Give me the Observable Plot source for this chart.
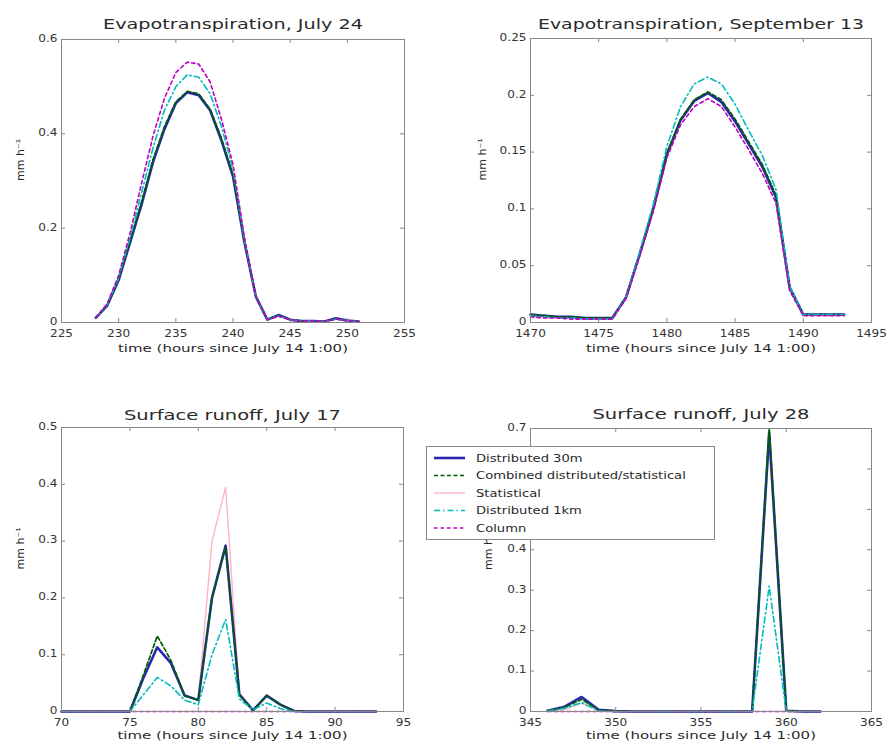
<!DOCTYPE html>
<html><head><meta charset="utf-8">
<script src="https://cdn.jsdelivr.net/npm/d3@7"></script>
<script src="https://cdn.jsdelivr.net/npm/@observablehq/plot@0.6"></script>
<style>
body{margin:0;background:#fff;}
#wrap{position:relative;width:890px;height:753px;background:#fff;font-family:"DejaVu Sans",sans-serif;overflow:hidden;}
.panel{position:absolute;}
</style></head><body><div id="wrap"></div>
<script>
// ---------- Data ----------
const seriesNames = ["Distributed 30m","Combined distributed/statistical","Statistical","Distributed 1km","Column"];

// Panel 1: Evapotranspiration, July 24
const et1Hours = [228,229,230,231,232,233,234,235,236,237,238,239,240,241,242,243,244,245,246,247,248,249,250,251];
const et1Dist30 = [0.01,0.036,0.09,0.17,0.25,0.34,0.41,0.465,0.488,0.482,0.45,0.385,0.31,0.17,0.055,0.006,0.016,0.006,0.003,0.003,0.002,0.009,0.004,0.002];
const et1Combined = [0.01,0.037,0.092,0.172,0.255,0.345,0.415,0.468,0.49,0.485,0.452,0.39,0.312,0.172,0.055,0.006,0.015,0.006,0.003,0.003,0.002,0.008,0.004,0.002];
const et1Statistical = [0.01,0.036,0.09,0.17,0.252,0.342,0.412,0.466,0.489,0.483,0.45,0.386,0.31,0.17,0.055,0.006,0.015,0.006,0.003,0.003,0.002,0.008,0.004,0.002];
const et1Dist1km = [0.01,0.038,0.095,0.18,0.275,0.37,0.45,0.5,0.525,0.52,0.485,0.415,0.325,0.175,0.055,0.006,0.014,0.006,0.003,0.003,0.002,0.007,0.004,0.002];
const et1Column = [0.01,0.04,0.1,0.19,0.295,0.395,0.475,0.53,0.552,0.548,0.51,0.43,0.335,0.18,0.055,0.006,0.013,0.006,0.003,0.003,0.002,0.007,0.004,0.002];
const et1XTicks = [225,230,235,240,245,250,255];
const et1YTicks = [0,0.2,0.4,0.6];
const et1YTickLabels = ["0","0.2","0.4","0.6"];

// Panel 2: Evapotranspiration, September 13
const et2Hours = [1470,1471,1472,1473,1474,1475,1476,1477,1478,1479,1480,1481,1482,1483,1484,1485,1486,1487,1488,1489,1490,1491,1492,1493];
const et2Dist30 = [0.007,0.006,0.005,0.005,0.004,0.004,0.004,0.022,0.06,0.10,0.148,0.178,0.195,0.202,0.194,0.177,0.157,0.137,0.11,0.031,0.007,0.007,0.007,0.007];
const et2Combined = [0.007,0.006,0.005,0.005,0.004,0.004,0.004,0.022,0.06,0.10,0.149,0.179,0.196,0.203,0.196,0.179,0.159,0.139,0.112,0.031,0.007,0.007,0.007,0.007];
const et2Statistical = [0.007,0.006,0.005,0.005,0.004,0.004,0.004,0.022,0.06,0.10,0.148,0.178,0.195,0.202,0.194,0.177,0.157,0.137,0.11,0.031,0.007,0.007,0.007,0.007];
const et2Dist1km = [0.006,0.005,0.004,0.004,0.003,0.003,0.003,0.022,0.062,0.104,0.155,0.19,0.21,0.216,0.21,0.192,0.169,0.147,0.117,0.032,0.007,0.007,0.007,0.007];
const et2Column = [0.005,0.004,0.004,0.003,0.003,0.003,0.003,0.021,0.058,0.098,0.145,0.174,0.19,0.197,0.19,0.172,0.152,0.131,0.105,0.028,0.006,0.006,0.006,0.006];
const et2XTicks = [1470,1475,1480,1485,1490,1495];
const et2YTicks = [0,0.05,0.1,0.15,0.2,0.25];
const et2YTickLabels = ["0","0.05","0.1","0.15","0.2","0.25"];

// Panel 3: Surface runoff, July 17
const ro1Hours = [70,71,72,73,74,75,76,77,78,79,80,81,82,83,84,85,86,87,88,89,90,91,92,93];
const ro1Dist30 = [0,0,0,0,0,0,0.06,0.113,0.085,0.028,0.02,0.2,0.292,0.03,0.002,0.028,0.012,0.001,0,0,0,0,0,0];
const ro1Combined = [0,0,0,0,0,0,0.065,0.133,0.09,0.028,0.02,0.2,0.29,0.03,0.002,0.028,0.012,0.001,0,0,0,0,0,0];
const ro1Statistical = [0,0,0,0,0,0,0.06,0.113,0.085,0.028,0.02,0.3,0.395,0.03,0.002,0.028,0.012,0.001,0,0,0,0,0,0];
const ro1Dist1km = [0,0,0,0,0,0,0.03,0.06,0.045,0.02,0.012,0.1,0.162,0.022,0.003,0.015,0.005,0,0,0,0,0,0,0];
const ro1Column = [0,0,0,0,0,0,0,0,0,0,0,0,0,0,0,0,0,0,0,0,0,0,0,0];
const ro1XTicks = [70,75,80,85,90,95];
const ro1YTicks = [0,0.1,0.2,0.3,0.4,0.5];
const ro1YTickLabels = ["0","0.1","0.2","0.3","0.4","0.5"];

// Panel 4: Surface runoff, July 28
const ro2Hours = [346,347,348,349,350,351,352,353,354,355,356,357,358,359,360,361,362];
const ro2Dist30 = [0.002,0.012,0.036,0.004,0.001,0,0,0,0,0,0,0,0,0.69,0.002,0,0];
const ro2Combined = [0.002,0.01,0.03,0.003,0.001,0,0,0,0,0,0,0,0,0.70,0.002,0,0];
const ro2Statistical = [0,0.005,0.02,0.002,0,0,0,0,0,0,0,0,0,0.66,0,0,0];
const ro2Dist1km = [0.001,0.008,0.022,0.002,0,0,0,0,0,0,0,0,0,0.31,0.001,0,0];
const ro2Column = [0,0,0,0,0,0,0,0,0,0,0,0,0,0,0,0,0];
const ro2XTicks = [345,350,355,360,365];
const ro2YTicks = [0,0.1,0.2,0.3,0.4,0.5,0.6,0.7];
const ro2YTickLabels = ["0","0.1","0.2","0.3","0.4","0.5","0.6","0.7"];
// labels 0.5 and 0.6 lie under the legend box in the reference
const ro2HiddenLabels = ["0.5","0.6"];

const xLabel = "time (hours since July 14 1:00)";
const yLabel = "mm h⁻¹";

// ---------- Styles ----------
const styles = {
  "Distributed 30m": {stroke:"#2828b0", strokeWidth:2.6, dash:null},
  "Combined distributed/statistical": {stroke:"#005c00", strokeWidth:1.7, dash:"4,2.5"},
  "Statistical": {stroke:"#ffb3c0", strokeWidth:1.4, dash:null},
  "Distributed 1km": {stroke:"#00bcbc", strokeWidth:1.6, dash:"6,3,1.5,3"},
  "Column": {stroke:"#c000c0", strokeWidth:1.6, dash:"3.5,3"}
};
const drawOrder = ["Statistical","Distributed 30m","Combined distributed/statistical","Distributed 1km","Column"];

const textColor = "#333";
const FONT = '"DejaVu Sans", sans-serif';
const wrap = document.getElementById("wrap");

function stretch(el, factor, target) {
  const w = el.getComputedTextLength();
  const len = target != null ? target : w * factor;
  el.setAttribute("textLength", len.toFixed(1));
  el.setAttribute("lengthAdjust", "spacingAndGlyphs");
}

function panel(cfg) {
  const {hours, values, xDomain, xTicks, yDomain, yTicks, yTickLabels, hidden = [], title, titleWidth,
         left, top, width, height, ml, mr, mt, mb, titleDy, xTickDy, xLabelDy, yLabelDx} = cfg;
  const ih = height - mt - mb, iw = width - ml - mr;
  const marks = [];
  for (const name of drawOrder) {
    const vals = values[seriesNames.indexOf(name)];
    const rows = hours.map((h, i) => ({h, v: vals[i]}));
    const st = styles[name];
    marks.push(Plot.line(rows, {x:"h", y:"v", stroke: st.stroke, strokeWidth: st.strokeWidth,
      strokeDasharray: st.dash || undefined, strokeLinejoin:"round"}));
  }
  marks.push(Plot.frame({stroke:"#888", strokeWidth:1}));
  marks.push(Plot.tickX(xTicks, {x: d => d, insetTop: ih - 4, stroke:"#888"}));
  marks.push(Plot.tickX(xTicks, {x: d => d, insetBottom: ih - 4, stroke:"#888"}));
  marks.push(Plot.tickY(yTicks, {y: d => d, insetRight: iw - 4, stroke:"#888"}));
  marks.push(Plot.tickY(yTicks, {y: d => d, insetLeft: iw - 4, stroke:"#888"}));
  marks.push(Plot.text(xTicks, {x: d => d, frameAnchor:"bottom", dy: xTickDy, text: d => String(d), fill: textColor, fontSize: 10.5}));
  const yLab = yTicks.map((d, i) => ({v: d, t: yTickLabels[i]})).filter(d => !hidden.includes(d.t));
  marks.push(Plot.text(yLab, {y: "v", frameAnchor:"left", dx: -4, dy: -1, textAnchor:"end", text: "t", fill: textColor, fontSize: 10.5}));
  marks.push(Plot.text([title], {frameAnchor:"top", dy: titleDy, text: d => d, fill: "#2a2a2a", fontSize: 14}));
  marks.push(Plot.text([xLabel], {frameAnchor:"bottom", dy: xLabelDy, text: d => d, fill: "#2a2a2a", fontSize: 10.5}));
  marks.push(Plot.text([yLabel], {frameAnchor:"left", dx: yLabelDx, rotate: -90, text: d => d, fill: "#2a2a2a", fontSize: 10.5}));
  const svg = Plot.plot({
    width, height, marginLeft: ml, marginRight: mr, marginTop: mt, marginBottom: mb,
    style: {fontFamily: FONT, background: "transparent", overflow: "visible"},
    x: {domain: xDomain, axis: null},
    y: {domain: yDomain, axis: null},
    marks
  });
  const div = document.createElement("div");
  div.className = "panel";
  div.style.left = left + "px";
  div.style.top = top + "px";
  div.appendChild(svg);
  wrap.appendChild(div);
  d3.select(svg).selectAll("text").each(function() {
    const t = this.textContent;
    if (t === title) stretch(this, 1, titleWidth);
    else if (t === xLabel) stretch(this, 1, 230);
    else if (t === yLabel) stretch(this, 1.05);
    else stretch(this, 1.15);
  });
}

panel({hours: et1Hours, values: [et1Dist30, et1Combined, et1Statistical, et1Dist1km, et1Column],
  xDomain:[225,255], xTicks: et1XTicks, yDomain:[0,0.6], yTicks: et1YTicks, yTickLabels: et1YTickLabels,
  title:"Evapotranspiration, July 24", titleWidth: 260, left:0, top:0, width:445, height:370, ml:61, mr:41, mt:39, mb:48,
  titleDy:-20, xTickDy:14, xLabelDy:29, yLabelDx:-41});
panel({hours: et2Hours, values: [et2Dist30, et2Combined, et2Statistical, et2Dist1km, et2Column],
  xDomain:[1470,1495], xTicks: et2XTicks, yDomain:[0,0.25], yTicks: et2YTicks, yTickLabels: et2YTickLabels,
  title:"Evapotranspiration, September 13", titleWidth: 326, left:445, top:0, width:445, height:370, ml:85, mr:19, mt:38, mb:48,
  titleDy:-19, xTickDy:14, xLabelDy:29, yLabelDx:-48});
panel({hours: ro1Hours, values: [ro1Dist30, ro1Combined, ro1Statistical, ro1Dist1km, ro1Column],
  xDomain:[70,95], xTicks: ro1XTicks, yDomain:[0,0.5], yTicks: ro1YTicks, yTickLabels: ro1YTickLabels,
  title:"Surface runoff, July 17", titleWidth: 217, left:0, top:370, width:445, height:383, ml:61, mr:42, mt:57, mb:42,
  titleDy:-17, xTickDy:14, xLabelDy:27, yLabelDx:-41});
panel({hours: ro2Hours, values: [ro2Dist30, ro2Combined, ro2Statistical, ro2Dist1km, ro2Column],
  xDomain:[345,365], xTicks: ro2XTicks, yDomain:[0,0.7], yTicks: ro2YTicks, yTickLabels: ro2YTickLabels,
  hidden: ro2HiddenLabels,
  title:"Surface runoff, July 28", titleWidth: 217, left:445, top:370, width:445, height:383, ml:85, mr:19, mt:58, mb:42,
  titleDy:-19, xTickDy:14, xLabelDy:27, yLabelDx:-42});

// ---------- Legend ----------
const lg = d3.select(wrap).append("svg")
  .attr("width", 290).attr("height", 95)
  .style("position","absolute").style("left","426px").style("top","446px")
  .style("font-family", FONT);
lg.append("rect").attr("x",0.5).attr("y",0.5).attr("width",288).attr("height",93)
  .attr("fill","#fff").attr("stroke","#888");
seriesNames.forEach((name, i) => {
  const y = 12 + i * 17.5;
  const st = styles[name];
  lg.append("line").attr("x1",8).attr("x2",39).attr("y1",y).attr("y2",y)
    .attr("stroke", st.stroke).attr("stroke-width", st.strokeWidth)
    .attr("stroke-dasharray", st.dash);
  lg.append("text").attr("x",50).attr("y",y).attr("dy","0.35em")
    .attr("font-size",10.5).attr("fill","#2a2a2a").text(name);
});
lg.selectAll("text").each(function() { stretch(this, 1.25); });
</script></body></html>
